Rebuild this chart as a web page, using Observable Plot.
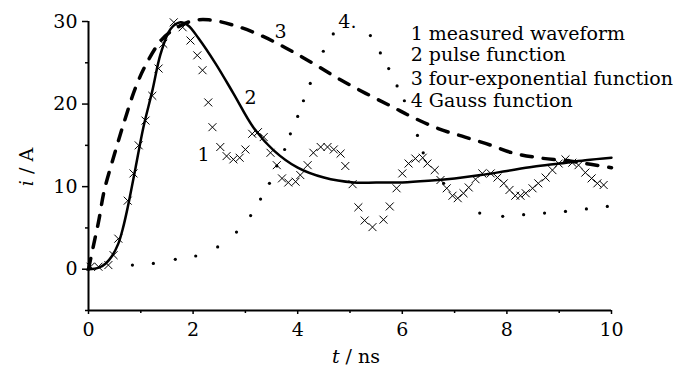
<!DOCTYPE html>
<html><head><meta charset="utf-8">
<script src="https://cdn.jsdelivr.net/npm/d3@7"></script>
<script src="https://cdn.jsdelivr.net/npm/@observablehq/plot@0.6"></script>
<style>
body{margin:0;background:#fff}
</style>
</head><body><div id="chart"></div>
<script>
// 1 measured waveform (crosses)
const measuredT = [0.04,0.19,0.38,0.48,0.57,0.75,0.86,0.96,1.09,1.22,1.34,1.43,1.63,1.8,1.95,2.08,2.18,2.29,2.37,2.52,2.64,2.77,2.89,3.0,3.13,3.24,3.35,3.48,3.6,3.7,3.82,3.96,4.05,4.19,4.3,4.44,4.57,4.69,4.82,4.91,5.05,5.16,5.28,5.43,5.64,5.76,5.89,6.0,6.12,6.25,6.39,6.48,6.62,6.73,6.85,6.96,7.06,7.17,7.27,7.4,7.53,7.69,7.82,7.94,8.05,8.16,8.26,8.36,8.49,8.6,8.74,8.87,8.99,9.12,9.25,9.37,9.5,9.62,9.73,9.85];
const measuredI = [0.3,0.3,0.5,1.7,3.7,8.3,11.6,15,18,21,24.3,27.3,29.9,29.3,27.7,25.9,24.1,20.2,17.2,14.8,13.7,13.3,13.5,14.5,16.4,16.6,16,14.1,12.6,11,10.5,10.6,11.4,12.6,14.1,14.8,14.8,14.5,14,12.5,10.3,7.5,5.9,5.1,6,7.6,9.8,11.6,12.8,13.4,13.5,12.8,12,10.8,9.8,8.9,8.6,9.2,9.9,10.9,11.6,11.6,11.1,10.4,9.6,8.9,8.9,9.2,9.8,10.4,11.1,12,12.8,13.3,12.9,12.6,11.7,11,10.4,10.2];
// 2 pulse function (solid)
const pulseT = [0,0.2,0.33,0.45,0.57,0.66,0.75,0.9,1.05,1.22,1.38,1.57,1.76,1.91,2.1,2.43,2.77,3.15,3.54,4.0,4.5,5.07,5.5,6.0,6.5,7.0,7.5,8.0,8.5,9.0,9.5,10];
const pulseI = [0,0.2,0.7,1.6,3.1,5,7.5,12.3,17.2,21.6,26.1,29.1,29.9,29.5,28,24.9,21.3,17.2,14.4,12.3,11.1,10.5,10.5,10.5,10.7,11,11.4,11.9,12.4,12.8,13.2,13.5];
// 3 four-exponential function (dashed)
const fourExpT = [0,0.1,0.2,0.3,0.5,0.7,0.9,1.1,1.4,1.7,2.0,2.3,2.8,3.3,3.8,4.3,4.8,5.3,5.8,6.2,6.7,7.2,7.7,8.1,8.6,9.2,9.6,10];
const fourExpI = [0,3,6,9.5,14,18.2,22,24.8,27.8,29.3,30.1,30.2,29.5,28.3,26.7,24.9,23.0,21.3,19.7,18.4,17,16,15,14.1,13.5,13.1,12.7,12.3];
// 4 Gauss function (dotted)
const gaussT = [0.02,0.84,1.24,1.66,2.05,2.47,2.83,3.1,3.29,3.46,3.6,3.75,3.86,4.0,4.11,4.24,4.49,4.68,5.39,5.58,5.74,5.9,6.04,6.29,6.4,6.79,7.48,7.92,8.32,8.72,9.12,9.52,9.92];
const gaussI = [0.1,0.5,0.7,1.2,1.6,2.7,4.5,6.5,8.5,10.4,12.5,14.5,16.4,18.5,20.4,22.5,26.4,28.5,28.3,26.2,24.3,22.2,20.4,16.2,14.1,10.4,6.8,6.4,6.6,6.8,7.0,7.3,7.6];

const curveLabels = ["1","2","3","4."];
const curveLabelT = [2.2,3.1,3.67,4.95];
const curveLabelI = [13.8,20.8,28.7,29.9];

const legendLines = ["1 measured waveform","2 pulse function","3 four-exponential function","4 Gauss function"];
const legendT = 6.16;
const legendI = [28.5,25.9,23.1,20.4];

const xMajor = [0,2,4,6,8,10];
const xMinor = [1,3,5,7,9];
const yMajor = [0,10,20,30];
const yMinor = [-5,5,15,25];

const zip = (T, I) => T.map((t, k) => ({t, i: I[k]}));
const measured = zip(measuredT, measuredI);
const pulse = zip(pulseT, pulseI);
const fourExp = zip(fourExpT, fourExpI);
const gauss = zip(gaussT, gaussI);
const labels = curveLabels.map((s, k) => ({s, t: curveLabelT[k], i: curveLabelI[k]}));
const legend = legendLines.map((s, k) => ({s, t: legendT, i: legendI[k]}));

const FONT = "DejaVu Serif";

const plot = Plot.plot({
  width: 696, height: 373,
  marginLeft: 88, marginRight: 85, marginTop: 21, marginBottom: 63,
  x: {domain: [0, 10]},
  y: {domain: [-5, 30]},
  style: {fontFamily: FONT, fontSize: "19px", color: "black", background: "white"},
  marks: [
    Plot.axisY(yMajor, {tickSize: 6, tickPadding: 5, label: null, fontSize: 19, strokeWidth: 1.5}),
    Plot.axisY(yMinor, {tickSize: 3, tickFormat: () => "", label: null, strokeWidth: 1.5}),
    Plot.axisX(xMajor, {tickSize: 4, tickPadding: 8, label: null, fontSize: 19, strokeWidth: 1.5}),
    Plot.axisX(xMinor, {tickSize: 3, tickFormat: () => "", label: null, strokeWidth: 1.5}),
    Plot.ruleX([0], {y1: -5, y2: 30, strokeWidth: 2}),
    Plot.ruleY([-5], {x1: 0, x2: 10, strokeWidth: 2}),
    Plot.line(fourExp, {x: "t", y: "i", stroke: "black", strokeWidth: 3.5, strokeDasharray: "11,11", curve: "catmull-rom"}),
    Plot.line(pulse, {x: "t", y: "i", stroke: "black", strokeWidth: 2.5, curve: "catmull-rom"}),
    Plot.dot(gauss, {x: "t", y: "i", r: 1.6, fill: "black"}),
    Plot.dot(measured, {x: "t", y: "i", symbol: "times", r: 3.7, stroke: "black", strokeWidth: 1}),
    Plot.text(labels, {x: "t", y: "i", text: "s", fontSize: 19, fill: "black"}),
    Plot.text(legend, {x: "t", y: "i", text: "s", fontSize: 19, textAnchor: "start", fill: "black"})
  ]
});

const svg = d3.select(plot);
const yl = svg.append("text")
  .attr("transform", "translate(26,167) rotate(-90)")
  .attr("text-anchor", "middle").attr("dominant-baseline", "central")
  .attr("font-size", 19).attr("fill", "black");
yl.append("tspan").attr("font-style", "italic").text("i");
yl.append("tspan").text(" / A");
const xl = svg.append("text")
  .attr("x", 356).attr("y", 356)
  .attr("text-anchor", "middle").attr("dominant-baseline", "central")
  .attr("font-size", 19).attr("fill", "black");
xl.append("tspan").attr("font-style", "italic").text("t");
xl.append("tspan").text(" / ns");

svg.selectAll("text").style("font-family", FONT);

document.getElementById("chart").appendChild(plot);
</script>
</body></html>
